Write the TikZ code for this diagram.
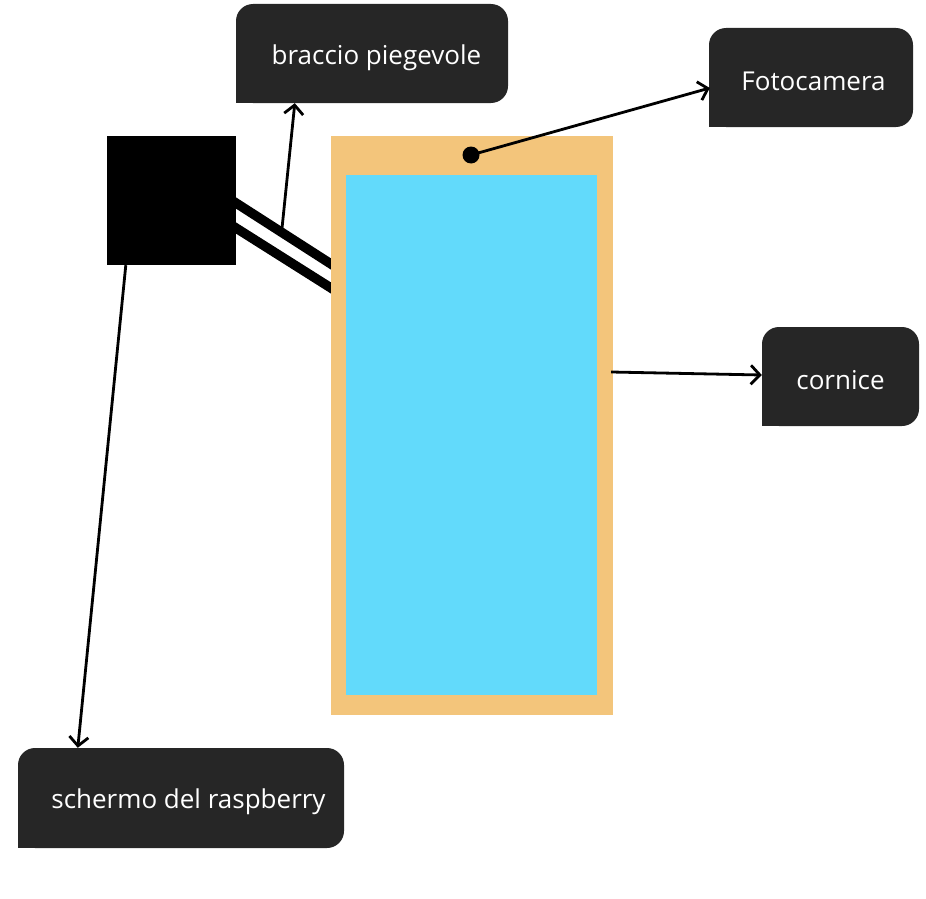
\documentclass[tikz,border=0pt]{standalone}
\usepackage{fontspec}
\setmainfont{Open Sans}
\usetikzlibrary{arrows.meta,calc}
\definecolor{frameorange}{HTML}{F3C57B}
\definecolor{screenblue}{HTML}{62DAFB}
\definecolor{labelfill}{HTML}{262626}
\newcommand{\lbltext}[2]{\hspace{#1}\raisebox{-4pt}[\height][\depth]{#2}}
\begin{document}
\begin{tikzpicture}[x=1pt,y=-1pt,
  labelbox/.style={fill=labelfill, text=white, rounded corners=17pt, inner sep=0pt,
    font=\fontsize{26}{30}\selectfont},
  armline/.style={line width=9.5pt, line cap=butt, shorten <=-12pt, shorten >=-12pt},
  arr/.style={line width=2.8pt, -{Straight Barb[length=9pt,width=19pt,line width=2.8pt]}}]
\useasboundingbox (0,0) rectangle (926,899);
% arm (drawn under the box and the frame)
\coordinate (arm1a) at (236,203);
\coordinate (arm1b) at (331,264);
\coordinate (arm2a) at (236,228);
\coordinate (arm2b) at (331,288);
\draw[armline] (arm1a) -- (arm1b);
\draw[armline] (arm2a) -- (arm2b);
% raspberry box
\node[fill=black, minimum size=129pt, inner sep=0pt] (rpi) at (171.5,200.5) {};
% frame and screen
\node[fill=frameorange, minimum width=282pt, minimum height=579pt, inner sep=0pt] (frame) at (472,425.5) {};
\node[fill=screenblue, minimum width=251pt, minimum height=520pt, inner sep=0pt] (screen) at (471.5,435) {};
\node[circle, fill=black, minimum size=17pt, inner sep=0pt] (cam) at (471,155) {};
% labels
\node[labelbox, minimum width=272pt, minimum height=99pt] (braccio) at (372,53.5) {\lbltext{9pt}{braccio piegevole}};
\node[labelbox, minimum width=204pt, minimum height=99pt] (foto) at (811,77.5) {\lbltext{5pt}{Fotocamera}};
\node[labelbox, minimum width=157pt, minimum height=99pt] (cornice) at (840.5,376.5) {\lbltext{0pt}{cornice}};
\node[labelbox, minimum width=326pt, minimum height=100pt] (schermo) at (181,798) {\lbltext{15pt}{schermo del raspberry}};
\foreach \b in {braccio,foto,cornice,schermo}
  \fill[labelfill] (\b.south west) rectangle ++(22,-22);
% connectors
\coordinate (armmid) at ($(arm1a)!0.48!(arm1b)$);
\draw[arr] (armmid) -- ($(braccio.south west)+(59,0)$);
\draw[arr] (cam.center) -- ($(foto.west)+(1,10.5)$);
\draw[arr] ($(frame.east)+(-2,-53.5)$) -- ($(cornice.west)+(0,-1.5)$);
\draw[arr] ($(rpi.south west)+(19,0)$) -- ($(schermo.north west)+(60,0)$);
\end{tikzpicture}
\end{document}
